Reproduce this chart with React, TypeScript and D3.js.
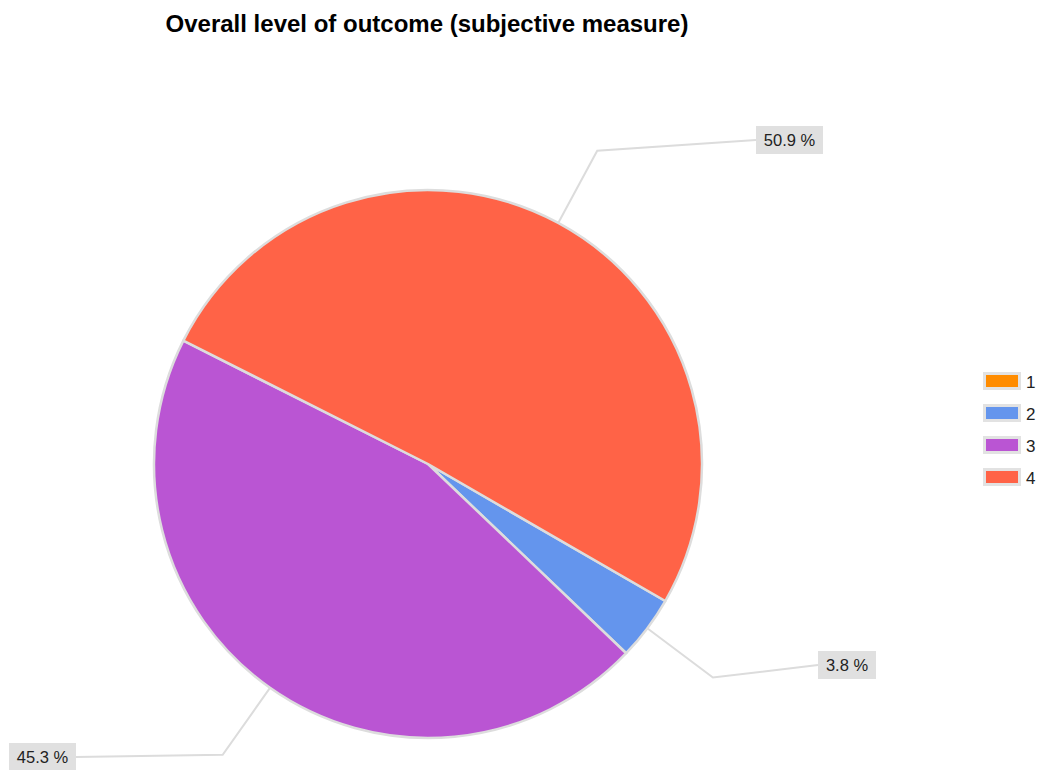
import React from "react";
import * as d3 from "d3";

const title = "Overall level of outcome (subjective measure)";
const categories = ["1", "2", "3", "4"];
const values = [0, 3.8, 45.3, 50.9];
const colors = ["#FF8C00", "#6495ED", "#BA55D3", "#FF6347"];
// label box anchor (layout) for each non-zero slice: x of box edge near elbow, y of text center
const labelAnchors: Record<string, { x: number; y: number; side: "left" | "right" }> = {
  "2": { x: 818, y: 665, side: "right" },
  "3": { x: 76, y: 757, side: "left" },
  "4": { x: 756, y: 140, side: "right" },
};

const W = 1048;
const H = 770;
const cx = 428;
const cy = 464;
const R = 274;
const startDeg = 120;

export default function App() {
  const total = d3.sum(values);
  const pie = d3
    .pie<number>()
    .sort(null)
    .value((d) => d)
    .startAngle((startDeg * Math.PI) / 180)
    .endAngle(((startDeg + 360) * Math.PI) / 180);
  const arcs = pie(values);
  const arcGen = d3.arc<d3.PieArcDatum<number>>().innerRadius(0).outerRadius(R);
  const legendY = d3.scalePoint<string>().domain(categories).range([381, 477]);

  return (
    <svg
      width={W}
      height={H}
      style={{ position: "absolute", left: 0, top: 0, fontFamily: "'Liberation Sans', Arial, sans-serif" }}
    >
      <rect width={W} height={H} fill="#fff" />
      <text x={427} y={32} textAnchor="middle" fontSize={24} fontWeight="bold" fill="#000">
        {title}
      </text>
      <g transform={`translate(${cx},${cy})`}>
        {arcs.map((a, i) =>
          a.value > 0 ? (
            <path key={i} d={arcGen(a) || ""} fill={colors[i]} stroke="#ddd" strokeWidth={2.5} strokeLinejoin="round" />
          ) : null
        )}
      </g>
      {arcs.map((a, i) => {
        if (a.value <= 0) return null;
        const anc = labelAnchors[categories[i]];
        const mid = (a.startAngle + a.endAngle) / 2;
        const p0 = [cx + R * Math.sin(mid), cy - R * Math.cos(mid)];
        const p1 = [cx + 356 * Math.sin(mid), cy - 356 * Math.cos(mid)];
        const label = `${((a.value / total) * 100).toFixed(1)} %`;
        const bw = label.length > 5 ? 67 : 58;
        const bx = anc.side === "right" ? anc.x : anc.x - bw;
        return (
          <g key={`l${i}`}>
            <polyline
              points={`${p0[0]},${p0[1]} ${p1[0]},${p1[1]} ${anc.x},${anc.y}`}
              fill="none"
              stroke="#dcdcdc"
              strokeWidth={2}
            />
            <rect x={bx} y={anc.y - 14} width={bw} height={28} fill="#e0e0e0" />
            <text x={bx + bw / 2} y={anc.y + 6} textAnchor="middle" fontSize={16.5} fill="#222">
              {label}
            </text>
          </g>
        );
      })}
      <g>
        {categories.map((c, i) => {
          const y = legendY(c)!;
          return (
            <g key={c}>
              <rect x={983} y={y - 9} width={38} height={18} fill="#e2e2e2" />
              <rect x={986} y={y - 6} width={32} height={12} fill={colors[i]} />
              <text x={1026} y={y + 6.5} fontSize={17} fill="#222">
                {c}
              </text>
            </g>
          );
        })}
      </g>
    </svg>
  );
}
